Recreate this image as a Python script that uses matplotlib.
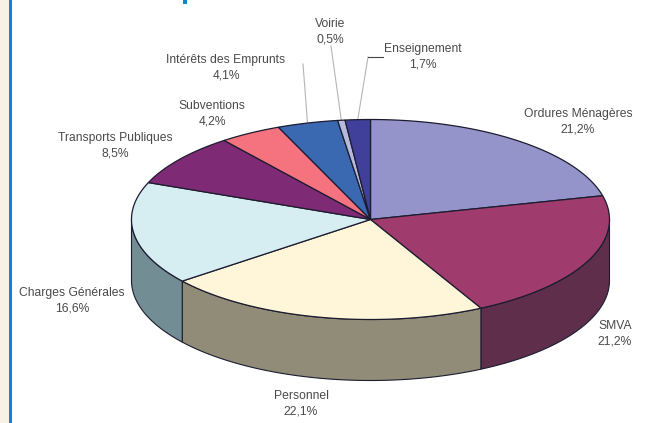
import numpy as np
import matplotlib
matplotlib.use("Agg")
import matplotlib.pyplot as plt
from matplotlib.patches import Polygon, Rectangle

plt.rcParams['font.family'] = ['Liberation Sans', 'DejaVu Sans']

categories = ["Ordures Ménagères", "SMVA", "Personnel", "Charges Générales",
              "Transports Publiques", "Subventions", "Intérêts des Emprunts",
              "Voirie", "Enseignement"]
values = [21.2, 21.2, 22.1, 16.6, 8.5, 4.2, 4.1, 0.5, 1.7]
top_colors = ["#9494cb", "#a03b6e", "#fff6d9", "#d6edf2", "#7e2a74",
              "#f4737f", "#3a68b1", "#b6b9dc", "#40409b"]
side_colors = ["#5c5c80", "#5f2e4a", "#918c78", "#728d94", "#4f1c48",
               "#98474f", "#24406e", "#70728a", "#282860"]
label_pos = [(578, 122), (615, 334), (301, 403.5), (72, 300.5), (115, 146),
             (212, 113.5), (226, 68), (330, 32), (423, 57)]

W, H = 657, 423
cx, cy, rx, ry, depth = 370.5, 219.5, 239, 100, 61

fig = plt.figure(figsize=(W / 100, H / 100), dpi=100, facecolor="white")
ax = fig.add_axes([0, 0, 1, 1])
ax.set_xlim(0, W)
ax.set_ylim(H, 0)
ax.axis("off")

ax.add_patch(Rectangle((0, 0), 9, H, fc="#f7f2e4", ec="none"))
ax.add_patch(Rectangle((9, 0), 3, H, fc="#0d85d6", ec="none"))
ax.add_patch(Rectangle((183, 0), 4, 4, fc="#0d85d6", ec="none"))

def pt(t, dy=0):
    t = np.asarray(t)
    return cx + rx * np.sin(t), cy - ry * np.cos(t) + dy

edges = np.concatenate([[0], np.cumsum(values)]) / np.sum(values) * 2 * np.pi
line = "#1c1c30"

# side walls: only the front half (pi/2 .. 3pi/2 in clockwise angle) shows
for i in range(len(values)):
    a, b = max(edges[i], np.pi / 2), min(edges[i + 1], 3 * np.pi / 2)
    if a >= b:
        continue
    t = np.linspace(a, b, 80)
    x, y = pt(t)
    x2, y2 = pt(t[::-1], depth)
    ax.add_patch(Polygon(np.c_[np.r_[x, x2], np.r_[y, y2]], closed=True,
                         fc=side_colors[i], ec=line, lw=0.8, zorder=2))

# top faces
for i in range(len(values)):
    t = np.linspace(edges[i], edges[i + 1], 80)
    x, y = pt(t)
    ax.add_patch(Polygon(np.c_[np.r_[cx, x], np.r_[cy, y]], closed=True,
                         fc=top_colors[i], ec=line, lw=0.9, zorder=3))

# labels
for name, v, (lx, ly) in zip(categories, values, label_pos):
    ax.text(lx, ly, f"{name}\n{v:.1f}%".replace(".", ","), ha="center", va="center",
            fontsize=8.7, color="#4a4a4a", linespacing=1.4, zorder=5)

# leader lines, attached to the rim at each slice's middle angle
mids = (edges[:-1] + edges[1:]) / 2
leaders = {6: (303, 64), 7: (331, 46), 8: (368, 57)}
for i, (lx, ly) in leaders.items():
    x, y = pt(mids[i])
    ax.plot([lx, x], [ly, y], color="#b5b5b5", lw=0.8, zorder=1)
ax.plot([368, 383], [57, 57], color="#444444", lw=0.8, zorder=1)

fig.savefig("out.png", dpi=100)
